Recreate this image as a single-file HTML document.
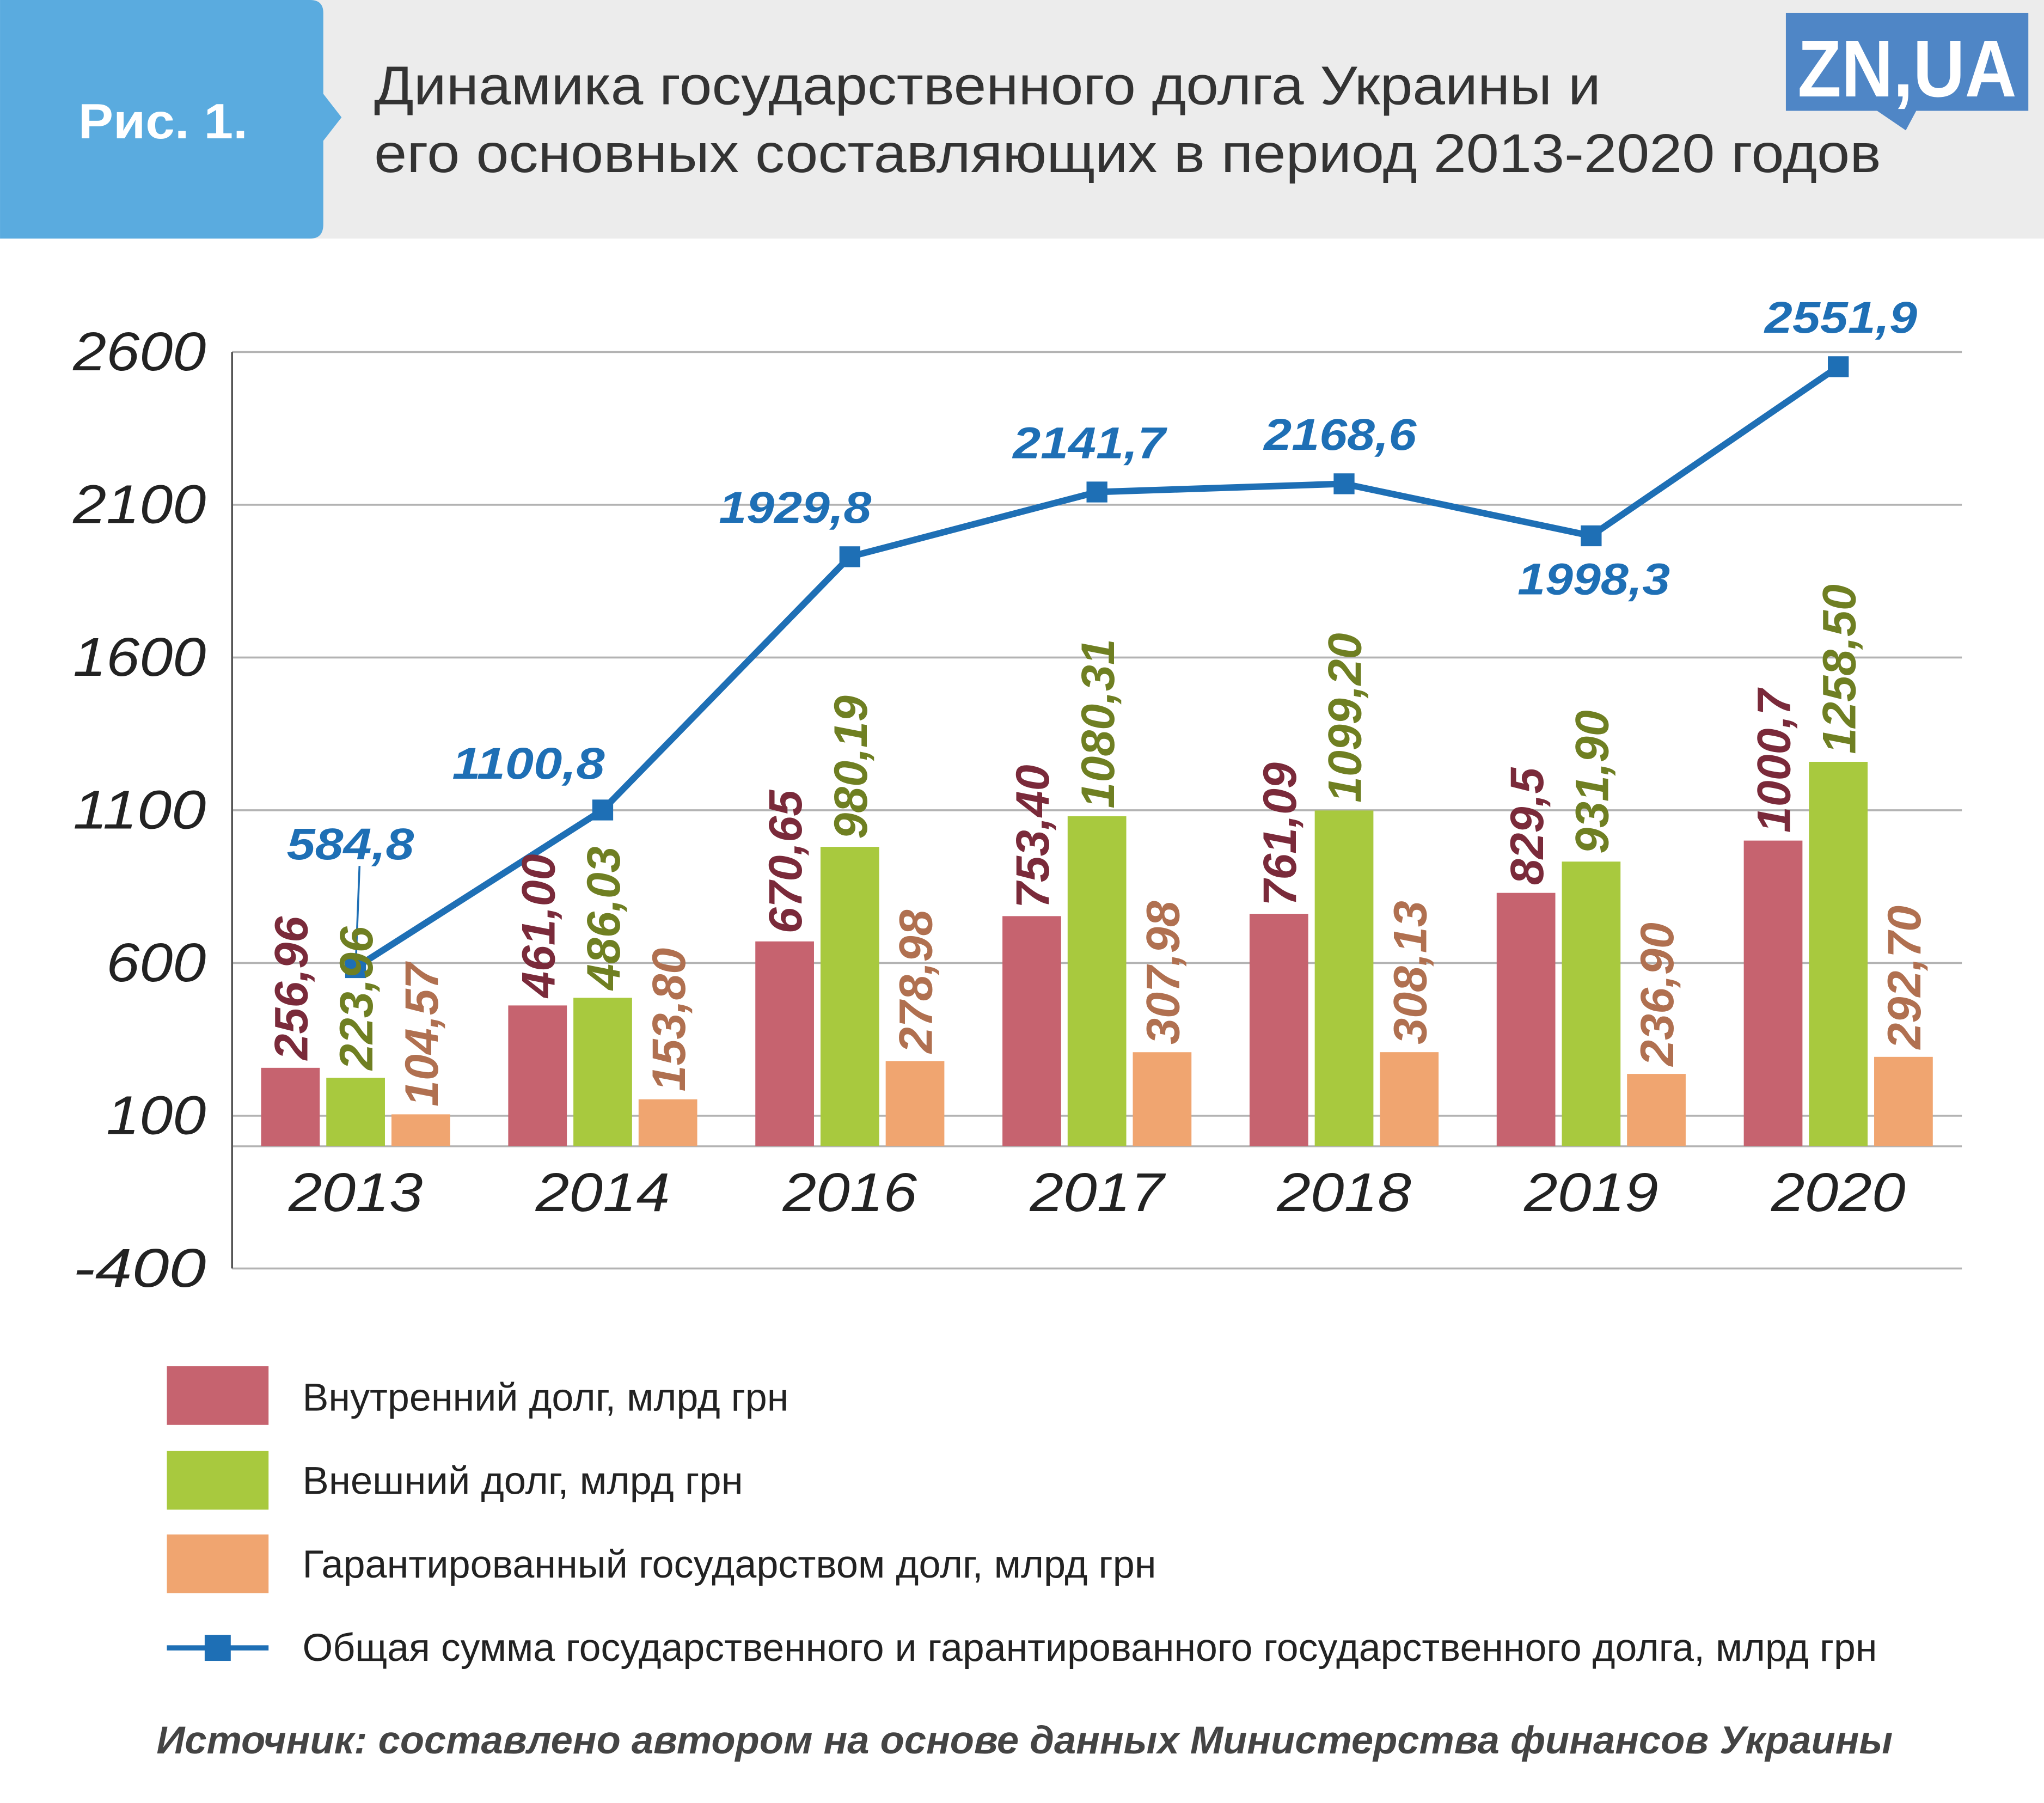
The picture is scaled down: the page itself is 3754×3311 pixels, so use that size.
<!DOCTYPE html>
<html><head><meta charset="utf-8">
<style>
html,body{margin:0;padding:0;background:#fff;}
svg{display:block;font-family:"Liberation Sans","Noto Sans CJK SC",sans-serif;}
</style></head>
<body>
<svg id="chart" width="3754" height="3311" viewBox="0 0 1568 1383" xmlns="http://www.w3.org/2000/svg">
  <rect x="0" y="0" width="1568" height="183" fill="#ececec"/>
  <path d="M0,0 H238 Q248,0 248,10 V72 L262,90 L248,108 V172 Q248,183 238,183 H0 Z" fill="#5aabdf"/>
  <text x="60" y="106" font-size="38" font-weight="bold" fill="#fff" textLength="130" lengthAdjust="spacingAndGlyphs">Рис. 1.</text>
  <text x="287" y="80" font-size="42" fill="#333" textLength="941" lengthAdjust="spacingAndGlyphs">Динамика государственного долга Украины и</text>
  <text x="287" y="132" font-size="42" fill="#333" textLength="1156" lengthAdjust="spacingAndGlyphs">его основных составляющих в период 2013-2020 годов</text>
  <g>
    <rect x="1370" y="10" width="186" height="75" fill="#4f86c6"/>
    <path d="M1440,85 L1462,100 L1470,85 Z" fill="#4f86c6"/>
    <text x="1463" y="74" font-size="62" font-weight="bold" fill="#fff" text-anchor="middle" textLength="168" lengthAdjust="spacingAndGlyphs">ZN,UA</text>
  </g>
  <g id="grid"></g>
  <g id="bars"></g>
  <g id="line"></g>
  <g id="labels"></g>
  <g>
    <rect x="128" y="1048" width="78" height="45" fill="#c6636f"/>
    <text x="232" y="1082" font-size="30" fill="#222" textLength="373" lengthAdjust="spacingAndGlyphs">Внутренний долг, млрд грн</text>
    <rect x="128" y="1113" width="78" height="45" fill="#a8c93e"/>
    <text x="232" y="1146" font-size="30" fill="#222" textLength="338" lengthAdjust="spacingAndGlyphs">Внешний долг, млрд грн</text>
    <rect x="128" y="1177" width="78" height="45" fill="#f0a570"/>
    <text x="232" y="1210" font-size="30" fill="#222" textLength="655" lengthAdjust="spacingAndGlyphs">Гарантированный государством долг, млрд грн</text>
    <line x1="128" y1="1264" x2="206" y2="1264" stroke="#1e6fb5" stroke-width="4"/>
    <rect x="157" y="1254" width="20" height="20" fill="#1e6fb5"/>
    <text x="232" y="1274" font-size="30" fill="#222" textLength="1208" lengthAdjust="spacingAndGlyphs">Общая сумма государственного и гарантированного государственного долга, млрд грн</text>
  </g>
  <text x="120" y="1345" font-size="30" font-weight="bold" font-style="italic" fill="#444" textLength="1332" lengthAdjust="spacingAndGlyphs">Источник: составлено автором на основе данных Министерства финансов Украины</text>
</svg>
<script>
const categories = ["2013","2014","2016","2017","2018","2019","2020"];
const domestic = [256.96,461.00,670.65,753.40,761.09,829.5,1000.7];
const domesticLabels = ["256,96","461,00","670,65","753,40","761,09","829,5","1000,7"];
const external = [223.96,486.03,980.19,1080.31,1099.20,931.90,1258.50];
const externalLabels = ["223,96","486,03","980,19","1080,31","1099,20","931,90","1258,50"];
const guaranteed = [104.57,153.80,278.98,307.98,308.13,236.90,292.70];
const guaranteedLabels = ["104,57","153,80","278,98","307,98","308,13","236,90","292,70"];
const total = [584.8,1100.8,1929.8,2141.7,2168.6,1998.3,2551.9];
const totalLabels = ["584,8","1100,8","1929,8","2141,7","2168,6","1998,3","2551,9"];
const yTicks = [2600,2100,1600,1100,600,100,-400];

const NS="http://www.w3.org/2000/svg";
const X0=178,X1=1505,Y_TOP=270,Y_BOT=973,VMAX=2600,VMIN=-400;
function y(v){return Y_TOP+(VMAX-v)/(VMAX-VMIN)*(Y_BOT-Y_TOP);}
const step=(X1-X0)/categories.length;
function xc(i){return X0+step*(i+0.5);}
function mk(tag,attrs,parent){const e=document.createElementNS(NS,tag);for(const k in attrs)e.setAttribute(k,attrs[k]);parent.appendChild(e);return e;}
const grid=document.getElementById('grid'),bars=document.getElementById('bars'),lineG=document.getElementById('line'),labels=document.getElementById('labels');

yTicks.forEach(t=>{
  const l=mk('line',{x1:X0,x2:X1,y1:y(t),y2:y(t),stroke:'#b3b3b3','stroke-width':1.5},grid);
  
  
  const s=String(t);
  const tx=mk('text',{x:158,y:y(t)+14,'font-size':42,'font-style':'italic','text-anchor':'end',fill:'#222',textLength:s.length*25.5,lengthAdjust:'spacingAndGlyphs'},grid);
  tx.textContent=s;
  
  
});
const zl=mk('line',{x1:X0,x2:X1,y1:y(0),y2:y(0),stroke:'#b3b3b3','stroke-width':1.5},grid);


const ax=mk('line',{x1:X0,x2:X0,y1:Y_TOP,y2:Y_BOT,stroke:'#555','stroke-width':1.5},grid);



const series=[
 {vals:domestic,labs:domesticLabels,fill:'#c6636f',col:'#7a2a3a',off:-50,name:'domestic'},
 {vals:external,labs:externalLabels,fill:'#a8c93e',col:'#6f7f22',off:0,name:'external'},
 {vals:guaranteed,labs:guaranteedLabels,fill:'#f0a570',col:'#b07050',off:50,name:'guaranteed'}
];
categories.forEach((c,i)=>{
  series.forEach(s=>{
    const cx=xc(i)+s.off, v=s.vals[i];
    const r=mk('rect',{x:cx-22.5,y:y(v),width:45,height:y(0)-y(v),fill:s.fill},bars);
    
    
    const t=mk('text',{x:0,y:0,'font-size':36,'font-weight':'bold','font-style':'italic',fill:s.col,transform:`translate(${cx+13},${y(v)-6}) rotate(-90)`},labels);
    t.textContent=s.labs[i];
    
    
  });
  const ct=mk('text',{x:xc(i),y:929,'font-size':42,'font-style':'italic','text-anchor':'middle',fill:'#222',textLength:103,lengthAdjust:'spacingAndGlyphs'},labels);
  ct.textContent=c;
  
  
});

const pts=total.map((v,i)=>xc(i)+','+y(v)).join(' ');
const pl=mk('polyline',{points:pts,fill:'none',stroke:'#1e6fb5','stroke-width':5,'stroke-linejoin':'round'},lineG);


const labelDx=[-4,-57,-42,-6,-3,2,2];
total.forEach((v,i)=>{
  const m=mk('rect',{x:xc(i)-8,y:y(v)-8,width:16,height:16,fill:'#1e6fb5'},lineG);
  
  
  let ly=y(v)-26, lx=xc(i)+labelDx[i];
  if(i===5) ly=y(v)+45;
  if(i===1) ly=y(v)-24;
  if(i===0){ ly=y(v)-83;
    const cl=mk('line',{x1:xc(i),y1:y(v),x2:xc(i)+3,y2:y(v)-78,stroke:'#1e6fb5','stroke-width':1.5},lineG);
    
    
  }
  const s=totalLabels[i];
  const t=mk('text',{x:lx,y:ly,'font-size':34,'font-weight':'bold','font-style':'italic','text-anchor':'middle',fill:'#1e6fb5',textLength:s.length*19.5,lengthAdjust:'spacingAndGlyphs'},labels);
  t.textContent=s;
  
  
});
</script>
</body></html>
